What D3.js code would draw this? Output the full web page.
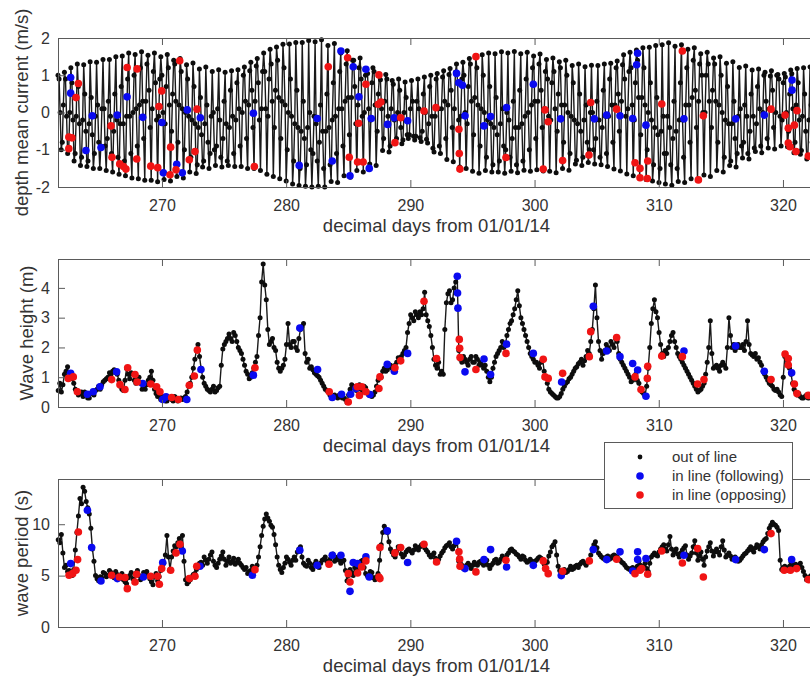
<!DOCTYPE html>
<html>
<head>
<meta charset="utf-8">
<script src="https://cdn.jsdelivr.net/npm/d3@7"></script>
<style>
  body { margin: 0; background: #fff; overflow: hidden; }
  svg { display: block; font-family: "Liberation Sans", Arial, Helvetica, sans-serif; }
</style>
</head>
<body>
<div id="chart"></div>
<script>
// Depth mean current, 6 samples per tidal cycle (high, 2 falling, low, 2 rising), one row ~ one day
const currentStart = 261.63;
const currentStep = 0.08625;
const current = [
  1.0, 0.9, 0.0, -1.0, -0.8, 0.2, 1.08, 0.9, -0.1, -1.1, -1.0, 0.0,
  1.2, 0.8, -0.2, -1.3, -1.1, -0.1, 1.3, 0.7, -0.3, -1.42, -1.2, -0.2,
  1.28, 0.5, -0.5, -1.45, -1.3, -0.3, 1.36, 0.4, -0.6, -1.5, -1.1, -0.1,
  1.35, 0.2, -0.8, -1.5, -0.9, 0.1, 1.42, 0.1, -0.9, -1.56, -0.7, 0.3,
  1.42, -0.1, -1.1, -1.6, -0.5, 0.5, 1.5, -0.2, -1.2, -1.66, -0.3, 0.7,
  1.52, -0.3, -1.3, -1.7, -0.1, 0.9, 1.6, -0.1, -1.1, -1.76, 0.0, 1.0,
  1.56, 0.1, -0.9, -1.78, 0.2, 1.2, 1.63, 0.3, -0.7, -1.82, 0.3, 1.3,
  1.54, 0.6, -0.4, -1.82, 0.1, 1.1, 1.6, 0.8, -0.2, -1.86, -0.1, 0.9,
  1.5, 1.0, 0.0, -1.8, -0.3, 0.7, 1.56, 1.2, 0.2, -1.84, -0.5, 0.5,
  1.4, 1.3, 0.3, -1.72, -0.8, 0.2, 1.45, 1.1, 0.1, -1.76, -1.0, 0.0,
  1.28, 0.9, -0.1, -1.6, -1.2, -0.2, 1.33, 0.7, -0.3, -1.64, -1.4, -0.4,
  1.17, 0.4, -0.6, -1.46, -1.3, -0.3, 1.22, 0.2, -0.8, -1.5, -1.1, -0.1,
  1.1, 0.0, -1.0, -1.42, -0.9, 0.1, 1.15, -0.2, -1.2, -1.46, -0.7, 0.3,
  1.08, -0.3, -1.3, -1.42, -0.4, 0.6, 1.12, -0.1, -1.1, -1.45, -0.2, 0.8,
  1.15, 0.1, -0.9, -1.45, 0.0, 1.0, 1.22, 0.3, -0.7, -1.5, 0.2, 1.12,
  1.35, 0.6, -0.4, -1.5, 0.3, 1.25, 1.45, 0.8, -0.2, -1.56, 0.1, 1.1,
  1.6, 1.1, 0.1, -1.66, -0.1, 0.9, 1.7, 1.3, 0.3, -1.72, -0.4, 0.6,
  1.76, 1.4, 0.4, -1.78, -0.7, 0.3, 1.83, 1.2, 0.2, -1.84, -1.0, 0.0,
  1.84, 0.9, -0.1, -1.92, -1.3, -0.3, 1.88, 0.6, -0.4, -1.96, -1.5, -0.5,
  1.88, 0.3, -0.7, -1.98, -1.4, -0.4, 1.93, 0.0, -1.0, -2.0, -1.1, -0.1,
  1.9, -0.3, -1.3, -1.98, -0.8, 0.2, 1.95, -0.5, -1.5, -2.0, -0.5, 0.5,
  1.8, -0.4, -1.4, -1.85, -0.2, 0.8, 1.85, -0.1, -1.1, -1.88, 0.1, 1.1,
  1.6, 0.1, -0.9, -1.7, 0.3, 1.3, 1.66, 0.4, -0.6, -1.74, 0.4, 1.4,
  1.4, 0.7, -0.3, -1.56, 0.2, 1.2, 1.46, 0.9, -0.1, -1.6, 0.0, 1.0,
  1.15, 1.05, 0.1, -1.38, -0.2, 0.8, 1.2, 1.1, 0.2, -1.42, -0.5, 0.5,
  0.98, 0.88, 0.1, -1.02, -0.7, 0.3, 1.02, 0.9, -0.1, -1.06, -0.9, 0.1,
  0.86, 0.76, -0.2, -0.8, -0.7, 0.0, 0.9, 0.6, -0.4, -0.84, -0.74, 0.0,
  0.82, 0.4, -0.6, -0.7, -0.6, 0.1, 0.86, 0.3, -0.64, -0.74, -0.64, 0.3,
  0.9, 0.1, -0.68, -0.78, -0.5, 0.5, 0.95, 0.0, -0.72, -0.82, -0.3, 0.7,
  1.0, -0.1, -0.96, -1.06, -0.1, 0.9, 1.05, 0.1, -0.9, -1.1, 0.1, 0.95,
  1.12, 0.3, -0.7, -1.26, 0.2, 1.02, 1.18, 0.6, -0.4, -1.32, 0.1, 1.08,
  1.3, 0.8, -0.2, -1.46, -0.1, 0.9, 1.35, 1.0, 0.0, -1.5, -0.3, 0.7,
  1.45, 1.3, 0.3, -1.58, -0.6, 0.4, 1.5, 1.2, 0.2, -1.63, -0.9, 0.1,
  1.55, 1.0, 0.0, -1.56, -1.2, -0.2, 1.6, 0.7, -0.3, -1.6, -1.4, -0.4,
  1.58, 0.4, -0.6, -1.6, -1.3, -0.3, 1.63, 0.1, -0.9, -1.63, -1.0, 0.0,
  1.6, -0.2, -1.2, -1.58, -0.7, 0.3, 1.64, -0.4, -1.4, -1.62, -0.4, 0.6,
  1.58, -0.3, -1.3, -1.55, -0.1, 0.9, 1.62, 0.0, -1.0, -1.58, 0.2, 1.2,
  1.52, 0.3, -0.7, -1.54, 0.3, 1.3, 1.57, 0.6, -0.4, -1.57, 0.1, 1.1,
  1.42, 0.9, -0.1, -1.58, -0.2, 0.8, 1.46, 1.1, 0.1, -1.62, -0.5, 0.5,
  1.36, 1.2, 0.2, -1.5, -0.8, 0.2, 1.4, 1.0, 0.0, -1.55, -1.1, -0.1,
  1.26, 0.8, -0.2, -1.38, -1.28, -0.3, 1.3, 0.5, -0.5, -1.42, -1.2, -0.2,
  1.23, 0.2, -0.8, -1.34, -1.0, 0.0, 1.27, 0.0, -1.0, -1.38, -0.7, 0.3,
  1.26, -0.2, -1.2, -1.4, -0.4, 0.6, 1.3, -0.1, -1.1, -1.45, -0.1, 0.9,
  1.32, 0.2, -0.8, -1.52, 0.2, 1.2, 1.38, 0.5, -0.5, -1.57, 0.3, 1.28,
  1.55, 0.9, -0.1, -1.65, 0.1, 1.1, 1.62, 1.2, 0.2, -1.7, -0.2, 0.8,
  1.68, 1.4, 0.4, -1.76, -0.6, 0.4, 1.74, 1.2, 0.2, -1.8, -1.0, 0.0,
  1.75, 0.8, -0.2, -1.84, -1.4, -0.4, 1.8, 0.4, -0.6, -1.88, -1.5, -0.5,
  1.82, -0.1, -1.1, -1.92, -1.1, -0.1, 1.87, -0.4, -1.4, -1.95, -0.7, 0.3,
  1.78, -0.5, -1.5, -1.85, -0.2, 0.8, 1.82, -0.2, -1.2, -1.88, 0.2, 1.2,
  1.7, 0.2, -0.8, -1.78, 0.4, 1.4, 1.74, 0.6, -0.4, -1.82, 0.3, 1.3,
  1.58, 1.0, 0.0, -1.68, 0.0, 1.0, 1.62, 1.3, 0.3, -1.72, -0.4, 0.6,
  1.46, 1.3, 0.3, -1.56, -0.8, 0.2, 1.5, 1.0, 0.0, -1.6, -1.2, -0.2,
  1.32, 0.7, -0.3, -1.42, -1.3, -0.3, 1.36, 0.3, -0.7, -1.46, -1.1, -0.1,
  1.21, 0.1, -0.9, -1.22, -0.8, 0.2, 1.25, -0.1, -1.1, -1.25, -0.5, 0.5,
  1.14, -0.1, -0.95, -1.05, -0.3, 0.7, 1.17, 0.1, -0.9, -1.08, 0.0, 1.0,
  1.08, 0.3, -0.7, -0.95, 0.1, 0.98, 1.12, 0.6, -0.4, -0.98, 0.0, 1.0,
  1.02, 0.9, -0.1, -0.9, -0.2, 0.8, 1.05, 0.95, 0.0, -0.92, -0.5, 0.5,
  1.14, 1.04, 0.1, -1.08, -0.8, 0.2, 1.18, 0.8, -0.2, -1.12, -1.02, -0.1,
  1.2, 0.5, -0.5, -1.25, -1.15, -0.2, 1.22, 0.2, -0.8, -1.28, -1.0, 0.0,
  1.24, 0.0, -1.0, -1.33, -0.7, 0.3, 1.25, -0.1, -1.1, -1.35, -0.4, 0.6
];

// Wave height (m) and period (s), 3-hourly, one row per day
const waveStart = 261.65;
const waveStep = 0.125;
const waveHeight = [
  0.55, 0.8, 0.5, 0.75, 1.1, 1.2, 1.35, 1.0,
  1.1, 0.95, 0.8, 0.6, 0.55, 0.4, 0.45, 0.5,
  0.35, 0.5, 0.45, 0.3, 0.3, 0.45, 0.5, 0.4,
  0.55, 0.6, 0.7, 0.6, 0.75, 0.85, 0.9, 0.95,
  1.0, 1.15, 1.1, 1.2, 1.25, 1.15, 1.1, 0.9,
  0.7, 0.6, 0.55, 0.9, 1.3, 1.1, 0.95, 1.15,
  1.1, 0.9, 0.8, 0.9, 1.0, 0.8, 0.6, 0.7,
  0.6, 0.75, 0.9, 1.0, 1.2, 0.9, 0.6, 0.45,
  0.35, 0.4, 0.25, 0.35, 0.3, 0.2, 0.2, 0.3,
  0.3, 0.25, 0.2, 0.35, 0.3, 0.2, 0.25, 0.3,
  0.25, 0.3, 0.35, 0.5, 0.7, 0.8, 1.0, 1.3,
  1.6, 1.9, 2.1, 1.7, 1.3, 1.0, 0.8, 0.7,
  0.6, 0.55, 0.5, 0.6, 0.7, 0.5, 0.55, 0.65,
  0.7, 1.4, 1.95, 2.1, 2.2, 2.3, 2.45, 2.3,
  2.2, 2.5, 2.4, 2.2, 2.0, 1.9, 1.8, 1.6,
  1.4, 1.2, 1.1, 0.95, 1.0, 1.15, 1.3, 1.5,
  1.7, 2.4, 3.0, 4.2, 4.8, 4.1, 3.6, 2.6,
  2.1, 2.2, 2.3, 2.0, 1.9, 1.5, 1.3, 1.2,
  1.3, 1.4, 1.6, 2.1, 2.8, 2.1, 2.0, 2.2,
  2.2, 2.0, 1.9, 2.3, 2.6, 2.7, 2.8, 1.8,
  1.5, 1.6, 1.3, 1.35, 1.25, 1.15, 1.1, 1.05,
  1.0, 0.9, 0.8, 0.7, 0.6, 0.55, 0.5, 0.4,
  0.35, 0.3, 0.4, 0.35, 0.3, 0.4, 0.35, 0.3,
  0.3, 0.25, 0.15, 0.4, 0.6, 0.75, 0.7, 0.6,
  0.55, 0.7, 0.75, 0.6, 0.5, 0.7, 0.65, 0.5,
  0.4, 0.45, 0.35, 0.4, 0.5, 0.7, 0.9, 1.0,
  1.0, 1.2, 1.3, 1.2, 1.25, 1.35, 1.4, 1.3,
  1.3, 1.4, 1.5, 1.65, 1.6, 1.7, 1.8, 1.9,
  2.0, 2.5, 2.8, 3.1, 3.0, 2.9, 3.2, 3.1,
  3.0, 3.2, 3.1, 3.3, 3.85, 3.1, 2.9, 2.7,
  2.4, 2.0, 1.6, 1.4, 1.3, 1.5, 1.1, 1.2,
  1.1, 2.6, 3.5, 3.8, 3.9, 3.5, 3.6, 4.0,
  4.2, 4.4, 1.9, 1.6, 1.5, 1.7, 1.6, 1.5,
  1.4, 1.6, 1.7, 1.5, 1.5, 1.7, 1.6, 1.4,
  1.5, 1.4, 1.3, 1.4, 1.2, 1.0, 0.85, 1.0,
  1.3, 1.5, 1.7, 1.8, 1.9, 2.0, 2.2, 2.0,
  2.1, 2.4, 2.6, 2.8, 2.9, 3.1, 3.3, 3.6,
  3.9, 3.4, 3.0, 2.8, 2.6, 2.4, 2.2, 2.0,
  1.8, 1.7, 1.6, 1.5, 1.5, 1.4, 1.3, 1.5,
  1.6, 1.2, 1.0, 0.8, 0.6, 0.5, 0.45, 0.4,
  0.35, 0.3, 0.3, 0.35, 0.45, 0.6, 0.7, 0.8,
  0.85, 0.95, 1.0, 1.1, 1.2, 1.3, 1.35, 1.45,
  1.5, 1.6, 1.4, 1.55, 1.7, 1.9, 1.8, 2.2,
  2.6, 3.3, 4.1, 3.0, 2.2, 1.9, 1.6, 1.8,
  1.9, 2.1, 2.0, 1.9, 2.2, 2.1, 2.0, 2.3,
  2.2, 1.8, 1.6, 1.5, 1.4, 1.3, 1.2, 1.1,
  1.0, 0.85, 0.9, 1.0, 1.1, 0.9, 0.8, 0.6,
  0.5, 0.45, 0.4, 0.7, 1.3, 2.0, 2.8, 3.3,
  3.6, 3.2, 3.0, 2.5, 2.1, 1.8, 1.7, 1.9,
  1.8, 2.0, 2.2, 2.4, 2.5, 2.2, 2.0, 1.8,
  1.7, 1.6, 1.5, 1.4, 1.3, 1.2, 1.1, 1.0,
  0.9, 0.8, 0.7, 0.6, 0.5, 0.55, 0.6, 0.7,
  0.8, 1.1, 1.5, 2.0, 2.9, 1.8, 1.3, 1.35,
  1.4, 1.3, 1.2, 1.4, 1.5, 1.4, 1.3, 2.0,
  3.0, 2.4, 2.0, 2.1, 1.9, 2.0, 2.1, 2.0,
  2.0, 2.1, 1.9, 2.2, 2.9, 2.1, 1.8, 1.75,
  1.7, 1.8, 1.6, 1.65, 1.5, 1.4, 1.2, 1.1,
  1.0, 0.9, 0.8, 0.75, 0.7, 0.6, 0.55, 0.6,
  0.5, 0.4, 0.35, 1.0, 1.7, 1.6, 1.5, 1.3,
  1.1, 0.8, 0.6, 0.5, 0.4, 0.45, 0.35, 0.3,
  0.3, 0.35, 0.4, 0.3, 0.35, 0.3, 0.4, 0.35
];
const wavePeriod = [
  8.5, 8.2, 9.0, 7.2, 5.8, 6.0, 5.4, 5.5,
  5.2, 5.0, 5.6, 7.5, 9.2, 10.8, 12.5, 12.0,
  13.6, 13.2, 12.2, 11.6, 11.0, 9.6, 7.6, 6.4,
  5.0, 4.7, 4.5, 4.9, 4.8, 5.3, 5.2, 4.9,
  5.0, 5.5, 5.3, 5.0, 4.8, 5.4, 5.1, 4.7,
  4.9, 5.2, 4.6, 4.4, 4.2, 4.8, 5.0, 5.3,
  4.7, 4.5, 5.2, 5.5, 5.0, 4.6, 4.8, 5.3,
  5.1, 5.4, 5.0, 4.7, 4.4, 4.1, 4.9, 5.2,
  4.5, 4.9, 5.5, 5.9, 6.2, 7.0, 8.9, 6.8,
  5.6, 6.8, 7.4, 7.9, 7.8, 8.2, 8.6, 7.7,
  8.9, 6.4, 4.6, 4.2, 4.4, 4.6, 4.9, 5.1,
  5.2, 5.6, 5.9, 6.2, 6.3, 6.0, 6.8, 6.5,
  6.2, 6.6, 7.0, 7.3, 6.4, 6.0, 5.8, 6.2,
  6.6, 6.9, 7.3, 6.6, 6.0, 6.4, 6.8, 6.2,
  6.4, 6.7, 6.1, 6.3, 6.6, 6.2, 6.0, 5.8,
  5.6, 5.8, 5.2, 5.4, 5.5, 5.9, 5.4, 5.6,
  6.0, 6.8, 7.8, 8.9, 9.8, 10.5, 11.0, 10.6,
  10.3, 9.9, 9.7, 9.0, 8.0, 6.8, 6.0, 5.6,
  5.3, 5.8, 6.2, 6.8, 6.6, 6.3, 6.0, 6.5,
  6.8, 6.5, 7.3, 7.6, 7.8, 6.8, 6.2, 6.0,
  5.9, 6.5, 6.2, 5.8, 5.6, 6.1, 6.4, 6.0,
  5.8, 6.2, 6.5, 6.6, 6.8, 6.4, 6.3, 6.6,
  6.9, 7.1, 6.4, 6.6, 6.8, 6.5, 6.2, 6.4,
  6.5, 5.5, 4.5, 5.0, 5.6, 5.3, 5.0, 5.8,
  5.4, 5.7, 6.0, 6.4, 6.5, 5.8, 5.2, 5.0,
  4.9, 5.4, 5.3, 4.8, 4.6, 4.9, 5.2, 6.5,
  8.0, 9.2, 9.8, 9.5, 9.2, 8.3, 7.6, 7.3,
  7.0, 6.8, 7.4, 7.8, 7.7, 7.1, 6.8, 7.0,
  7.3, 7.5, 7.6, 7.4, 7.2, 7.5, 7.9, 7.7,
  7.5, 7.8, 8.0, 7.9, 7.7, 7.5, 7.3, 7.0,
  6.8, 7.0, 7.2, 6.7, 6.3, 6.6, 6.9, 7.2,
  7.4, 7.7, 7.9, 8.0, 8.2, 7.8, 7.6, 7.9,
  8.1, 8.3, 6.4, 6.2, 6.0, 5.7, 5.8, 6.0,
  6.2, 6.0, 5.7, 6.0, 6.3, 6.1, 6.0, 6.3,
  6.4, 6.2, 6.0, 6.3, 6.5, 6.0, 5.7, 6.0,
  6.2, 6.5, 6.6, 6.2, 6.3, 6.6, 6.9, 6.6,
  6.7, 7.0, 7.2, 7.5, 7.6, 7.4, 7.3, 7.1,
  7.0, 6.8, 6.6, 6.9, 6.8, 6.5, 6.3, 6.4,
  6.6, 6.4, 6.2, 6.4, 6.5, 6.7, 6.8, 6.7,
  6.6, 6.1, 5.6, 6.3, 6.9, 7.3, 7.8, 8.0,
  8.3, 7.0, 5.9, 5.5, 5.3, 5.5, 5.6, 5.3,
  5.4, 5.6, 5.9, 5.6, 5.7, 5.9, 6.0, 5.8,
  6.1, 6.3, 6.4, 6.2, 6.0, 6.3, 6.5, 7.0,
  7.6, 8.0, 8.3, 7.7, 7.2, 7.0, 6.8, 6.7,
  6.6, 6.8, 6.9, 6.6, 6.7, 6.9, 7.0, 6.9,
  6.8, 6.6, 6.5, 6.3, 6.2, 6.0, 5.8, 5.7,
  5.6, 5.7, 5.8, 5.6, 5.5, 5.9, 6.4, 6.0,
  5.7, 5.9, 6.2, 5.7, 5.4, 6.2, 6.8, 7.0,
  7.2, 7.0, 6.9, 7.3, 7.6, 7.8, 8.0, 7.6,
  7.4, 8.0, 8.8, 7.6, 7.0, 7.3, 7.6, 7.1,
  6.8, 7.2, 7.5, 7.7, 7.9, 7.0, 6.6, 6.9,
  7.2, 7.8, 8.4, 7.2, 6.5, 6.9, 7.3, 6.6,
  6.0, 6.8, 7.4, 7.8, 8.2, 7.4, 6.9, 7.3,
  7.6, 7.3, 7.0, 7.8, 8.4, 7.5, 6.8, 7.0,
  7.2, 6.9, 6.6, 6.7, 6.8, 6.6, 6.4, 6.5,
  6.7, 6.9, 7.1, 7.2, 7.4, 7.6, 7.8, 7.5,
  7.3, 7.7, 8.0, 7.8, 7.6, 8.0, 8.3, 8.5,
  8.6, 9.1, 9.6, 9.9, 10.2, 10.0, 9.9, 9.7,
  9.4, 6.5, 5.6, 5.8, 5.9, 5.7, 5.5, 5.9,
  6.3, 6.0, 5.8, 6.1, 5.9, 6.0, 6.2, 5.8,
  5.4, 5.0, 4.6, 4.8, 4.9, 5.0, 5.1, 4.8
];

// In-line passes [day, value]
const curFollowing = [
  [262.65, 0.94], [262.65, 0.52], [263.88, -1.02], [264.39, -0.09], [265.09, -0.94], [266.4, -0.07],
  [267.19, 0.42], [268.45, -0.13], [270.0, -0.27], [270.11, -1.62], [271.19, -1.39], [271.64, -1.62],
  [272.04, 0.07], [273.09, -0.14], [277.36, -0.02], [281.05, -1.42], [282.5, -0.16], [283.71, -1.3],
  [284.41, 1.65], [285.14, -1.7], [285.4, 1.23], [285.86, 0.42], [286.42, 1.16], [286.69, -1.5],
  [286.85, -0.16], [288.17, -0.32], [288.7, -0.14], [289.78, -0.22], [293.72, 1.05], [293.9, 0.8],
  [294.2, 0.73], [294.4, -0.09], [295.93, -0.36], [296.46, -0.11], [297.75, 0.13], [299.9, 0.76],
  [302.1, -0.17], [304.81, -0.17], [305.81, -0.07], [306.88, -0.09], [307.9, -0.16], [308.22, 1.28],
  [308.3, 1.59], [308.97, -0.34], [312.03, -0.17], [316.19, -0.17], [318.5, -0.07], [320.73, 0.87],
  [320.73, 0.6]
];
const curOpposing = [
  [262.5, -0.66], [262.5, -0.97], [262.75, -0.68], [263.08, 0.4], [263.27, 0.78], [265.9, -0.36],
  [265.98, -1.2], [266.6, -1.38], [266.9, -1.45], [267.1, -1.52], [267.2, 1.21], [267.97, -1.25],
  [268.0, 1.17], [269.1, -1.44], [269.66, -1.48], [269.76, 0.16], [269.98, 0.58], [270.65, -1.67],
  [270.7, -0.93], [271.13, -1.54], [271.43, 1.39], [272.2, -1.27], [272.66, -1.05], [272.82, 0.09],
  [277.44, -1.45], [283.39, 1.23], [284.95, 1.47], [285.08, -1.2], [285.75, -1.33], [285.83, -0.29],
  [286.2, -1.33], [286.42, 0.76], [287.42, 0.22], [287.47, 1.01], [287.63, 0.28], [288.76, -0.81],
  [289.22, -0.14], [291.1, 0.04], [292.06, 0.13], [293.91, -0.45], [293.94, -1.1], [293.99, -1.52],
  [295.28, 1.5], [297.7, -1.21], [300.7, -1.52], [300.84, 0.07], [301.1, -0.25], [302.26, -1.29],
  [304.38, -1.14], [304.52, 0.27], [306.61, 0.09], [308.09, -1.35], [308.49, -1.5], [308.49, -1.75],
  [309.08, -1.77], [309.11, -1.3], [310.24, 0.23], [311.9, 1.65], [313.19, -1.81], [313.59, -0.09],
  [319.04, 0.09], [320.17, -0.07], [320.43, -0.42], [320.43, -0.82], [320.57, -0.92], [320.92, -0.34],
  [321.05, -1.05], [321.13, 0.05], [322.04, -1.17]
];
const heightFollowing = [
  [262.65, 1.13], [264.0, 0.43], [264.47, 0.51], [265.01, 0.68], [266.35, 1.18], [268.45, 0.79],
  [270.06, 0.25], [270.33, 0.34], [272.0, 0.25], [273.14, 1.26], [277.36, 1.07], [281.1, 2.65],
  [282.53, 1.26], [283.71, 0.32], [284.46, 0.43], [285.19, 0.43], [285.62, 0.62], [286.75, 0.42],
  [288.14, 1.43], [288.71, 1.2], [289.78, 1.8], [293.78, 4.39], [293.8, 3.83], [293.83, 3.32],
  [294.4, 1.18], [295.93, 1.61], [296.46, 1.09], [297.75, 2.11], [299.9, 1.8], [302.18, 0.84],
  [304.73, 3.38], [305.81, 1.88], [306.88, 1.69], [307.9, 1.46], [308.3, 1.24], [308.97, 0.36],
  [312.03, 1.88], [316.19, 2.05], [318.5, 1.2], [320.7, 1.15]
];
const heightOpposing = [
  [262.46, 0.96], [262.86, 1.01], [263.19, 0.51], [265.95, 0.92], [266.62, 0.75], [267.02, 0.59],
  [267.24, 1.32], [267.83, 1.09], [268.0, 0.84], [269.1, 0.77], [269.57, 0.68], [269.84, 0.51],
  [270.78, 0.32], [271.32, 0.25], [272.2, 0.73], [272.61, 1.04], [272.85, 1.91], [277.49, 1.32],
  [283.47, 0.51], [285.0, 0.17], [285.73, 0.68], [285.9, 0.39], [286.08, 0.68], [286.42, 0.51],
  [287.47, 0.62], [287.55, 1.01], [288.76, 1.32], [289.22, 1.55], [291.1, 3.55], [292.11, 1.63],
  [293.94, 2.27], [293.97, 1.97], [294.0, 1.66], [295.28, 1.26], [297.7, 1.8], [300.7, 1.6],
  [300.84, 1.01], [301.1, 0.96], [302.26, 1.13], [304.41, 1.69], [304.52, 2.53], [306.61, 2.33],
  [308.09, 1.01], [308.57, 0.59], [309.08, 0.96], [309.11, 1.37], [310.24, 1.71], [311.9, 1.69],
  [313.13, 0.77], [313.64, 0.92], [319.04, 0.92], [320.17, 1.78], [320.43, 1.63], [320.43, 1.41],
  [320.92, 0.77], [321.13, 0.45], [322.04, 0.39]
];
const periodFollowing = [
  [262.65, 6.17], [264.0, 11.36], [264.34, 7.73], [265.09, 4.48], [266.41, 4.71], [268.5, 4.87],
  [270.06, 6.27], [271.64, 7.4], [273.06, 5.91], [277.28, 5.03], [281.1, 7.47], [282.5, 6.0],
  [283.71, 6.98], [284.41, 6.98], [285.14, 3.47], [285.4, 6.27], [285.75, 6.17], [286.42, 6.82],
  [286.69, 4.87], [288.14, 9.35], [289.78, 6.27], [293.72, 8.34], [294.4, 5.68], [295.93, 6.56],
  [296.46, 7.53], [297.75, 5.84], [299.9, 6.0], [302.15, 5.0], [304.73, 7.53], [305.81, 6.56],
  [306.88, 7.31], [307.9, 5.45], [308.3, 7.31], [308.3, 6.56], [308.97, 6.66], [312.03, 6.98],
  [316.19, 6.56], [318.5, 7.53], [320.7, 6.56]
];
const periodOpposing = [
  [262.52, 5.03], [262.81, 5.19], [263.08, 5.52], [263.21, 6.56], [263.27, 9.25], [265.95, 5.03],
  [266.57, 4.87], [267.02, 4.81], [267.21, 3.73], [267.83, 4.38], [267.96, 5.13], [269.09, 4.94],
  [269.65, 4.94], [269.79, 4.16], [269.98, 5.68], [270.7, 5.52], [271.13, 7.21], [271.45, 8.05],
  [272.2, 4.71], [272.66, 4.94], [272.8, 5.91], [277.49, 5.58], [283.45, 6.1], [285.0, 5.19],
  [285.14, 4.38], [285.75, 5.26], [286.08, 5.85], [286.42, 6.43], [287.47, 4.87], [287.55, 4.71],
  [287.55, 7.73], [288.76, 7.21], [289.22, 7.73], [291.1, 8.05], [292.11, 6.33], [293.91, 7.31],
  [293.97, 6.6], [294.0, 5.91], [295.28, 5.36], [297.7, 6.49], [300.7, 6.43], [300.89, 5.68],
  [301.1, 5.19], [302.26, 5.42], [304.41, 6.43], [306.61, 6.59], [308.09, 5.19], [308.49, 5.52],
  [308.63, 5.68], [309.11, 5.13], [310.24, 7.4], [311.9, 6.23], [313.13, 7.63], [313.59, 4.87],
  [319.04, 9.09], [320.1, 5.52], [320.6, 5.52], [321.1, 5.68], [322.04, 4.61]
];

// Axis ticks and labels
const xTicks = [270, 280, 290, 300, 310, 320];
const xLabel = "decimal days from 01/01/14";
const legendLabels = ["out of line", "in line (following)", "in line (opposing)"];

const width = 810;
const height = 677;
const left = 58;
const right = 815;
const blue = "#0a0af0";
const red = "#f01414";
const ink = "#333";
const frame = "#5a5a5a";

const series = (start, step, values) => values.map((v, i) => ({ t: start + i * step, v }));

const panels = [
    { top: 38, bottom: 187, domain: [-2, 2], ticks: [-2, -1, 0, 1, 2], label: "depth mean current (m/s)", labelX: 21.5,
      line: series(currentStart, currentStep, current), following: curFollowing, opposing: curOpposing, lw: 1.4, r: 2.5 },
    { top: 259, bottom: 407, domain: [0, 4.97], ticks: [0, 1, 2, 3, 4], label: "Wave height (m)", labelX: 26.5,
      line: series(waveStart, waveStep, waveHeight), following: heightFollowing, opposing: heightOpposing, lw: 1.4, r: 2.5 },
    { top: 479, bottom: 627, domain: [0, 14.4], ticks: [0, 5, 10], label: "wave period (s)", labelX: 21.5,
      line: series(waveStart, waveStep, wavePeriod), following: periodFollowing, opposing: periodOpposing, lw: 1.4, r: 2.5 }
];

const xScale = d3.scaleLinear()
    .domain([261.63, 322.58])
    .range([left, right]);

const svg = d3.select("#chart")
    .append("svg")
    .attr("width", width)
    .attr("height", height);

function styleAxis(g) {
    g.select(".domain").remove();
    g.selectAll(".tick line").attr("stroke", frame);
    g.selectAll(".tick text").attr("fill", ink).attr("font-size", 16);
    g.attr("font-family", null).attr("font-size", null);
}

panels.forEach(p => {
    const yScale = d3.scaleLinear().domain(p.domain).range([p.bottom, p.top]);
    const g = svg.append("g");

    // Data line and samples
    const line = d3.line().x(d => xScale(d.t)).y(d => yScale(d.v));
    g.append("path")
        .datum(p.line)
        .attr("fill", "none")
        .attr("stroke", "#1a1a1a")
        .attr("stroke-width", p.lw)
        .attr("d", line);

    g.selectAll(".dot")
        .data(p.line)
        .enter()
        .append("circle")
        .attr("cx", d => xScale(d.t))
        .attr("cy", d => yScale(d.v))
        .attr("r", p.r)
        .attr("fill", "#0d0d0d");

    // In-line passes
    [[p.following, blue], [p.opposing, red]].forEach(([pts, color]) => {
        g.selectAll(null)
            .data(pts)
            .enter()
            .append("circle")
            .attr("cx", d => xScale(d[0]))
            .attr("cy", d => yScale(d[1]))
            .attr("r", 3.8)
            .attr("fill", color);
    });

    // Box
    g.append("rect")
        .attr("x", left + 0.5)
        .attr("y", p.top + 0.5)
        .attr("width", right - left)
        .attr("height", p.bottom - p.top)
        .attr("fill", "none")
        .attr("stroke", frame);

    // Axes (ticks inside)
    g.append("g")
        .attr("transform", `translate(0, ${p.bottom})`)
        .call(d3.axisBottom(xScale).tickValues(xTicks).tickSize(-7).tickPadding(13).tickFormat(d => String(d)))
        .call(styleAxis);

    g.append("g")
        .attr("transform", `translate(0, ${p.top})`)
        .call(d3.axisTop(xScale).tickValues(xTicks).tickSize(-7).tickFormat(""))
        .call(styleAxis);

    g.append("g")
        .attr("transform", `translate(${left}, 0)`)
        .call(d3.axisLeft(yScale).tickValues(p.ticks).tickSize(-7).tickPadding(8).tickFormat(d => String(d)))
        .call(styleAxis);

    // Labels
    g.append("text")
        .attr("x", (left + right) / 2)
        .attr("y", p.bottom + 45)
        .attr("text-anchor", "middle")
        .attr("font-size", 18.5)
        .attr("fill", ink)
        .text(xLabel);

    g.append("text")
        .attr("transform", `translate(${p.labelX}, ${(p.top + p.bottom) / 2}) rotate(-90)`)
        .attr("text-anchor", "middle")
        .attr("dy", "0.35em")
        .attr("font-size", 18.5)
        .attr("fill", ink)
        .text(p.label);
});

// Legend
const legend = svg.append("g").attr("transform", "translate(604, 442)");
legend.append("rect")
    .attr("x", 0.5)
    .attr("y", 0.5)
    .attr("width", 188)
    .attr("height", 66)
    .attr("fill", "#fff")
    .attr("stroke", frame);

const legendItems = legend.selectAll(".item")
    .data(legendLabels)
    .enter()
    .append("g")
    .attr("transform", (d, i) => `translate(0, ${15 + i * 19})`);

legendItems.append("circle")
    .attr("cx", 36)
    .attr("r", (d, i) => i === 0 ? 2.4 : 3.8)
    .attr("fill", (d, i) => ["#0d0d0d", blue, red][i]);

legendItems.append("text")
    .attr("x", 68)
    .attr("dy", "0.35em")
    .attr("font-size", 15)
    .attr("fill", ink)
    .text(d => d);
</script>
</body>
</html>
